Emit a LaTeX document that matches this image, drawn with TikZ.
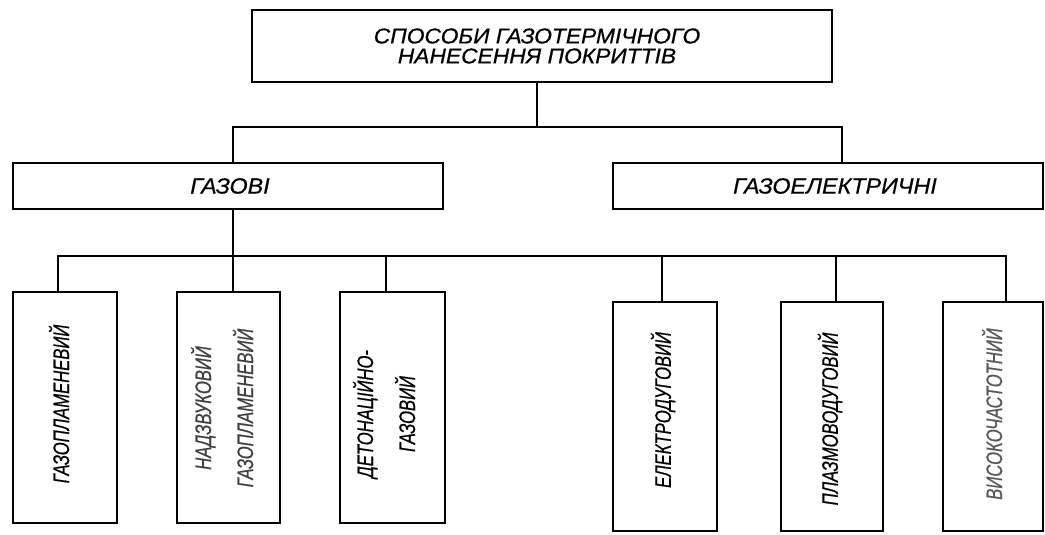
\documentclass[tikz,border=0pt]{standalone}
\usepackage{fontspec}
\setmainfont{Liberation Sans}
\newfontfamily\cadfont[FakeStretch=0.74, FakeBold=0.6]{Liberation Sans}
\newfontfamily\cadwide[FakeStretch=1.06, FakeBold=0.6]{Liberation Sans}
\begin{document}
\begin{tikzpicture}[x=1pt,y=-1pt,
  box/.style={draw, line width=1.7pt, inner sep=0pt},
  conn/.style={line width=1.5pt},
  toptxt/.style={font=\cadwide\itshape\fontsize{21.5}{20}\selectfont, align=center},
  midtxt/.style={font=\cadwide\itshape\fontsize{22}{22}\selectfont},
  vtxt/.style={rotate=90, align=center, font=\cadfont\itshape\fontsize{22.5}{42}\selectfont}
]
\useasboundingbox (0,0) rectangle (1045,535);
% top
\node[box, minimum width=580pt, minimum height=72pt] (top) at (542,46) {};
\node[toptxt] (toptext) at (537,46) {СПОСОБИ ГАЗОТЕРМІЧНОГО\\НАНЕСЕННЯ ПОКРИТТІВ};
% second level
\node[box, minimum width=430pt, minimum height=46pt] (gaz) at (228,186) {};
\node[midtxt] (gaztext) at (230,186) {ГАЗОВІ};
\node[box, minimum width=430pt, minimum height=46pt] (ge) at (828,186) {};
\node[midtxt] (getext) at (835,186) {ГАЗОЕЛЕКТРИЧНІ};
% third level
\node[box, minimum width=104pt, minimum height=231pt] (b1) at (65,407.5) {};
\node[box, minimum width=103pt, minimum height=231pt] (b2) at (228.5,407.5) {};
\node[box, minimum width=105pt, minimum height=231pt] (b3) at (392.5,407.5) {};
\node[box, minimum width=104pt, minimum height=229pt] (b4) at (665,416.5) {};
\node[box, minimum width=102pt, minimum height=229pt] (b5) at (832,416.5) {};
\node[box, minimum width=100pt, minimum height=229pt] (b6) at (993,416.5) {};
\node[vtxt] (b1t) at (59,404) {ГАЗОПЛАМЕНЕВИЙ};
\node[vtxt, text=black!75] (b2t) at (222,408) {НАДЗВУКОВИЙ\\ГАЗОПЛАМЕНЕВИЙ};
\node[vtxt] (b3t) at (384,414) {ДЕТОНАЦІЙНО-\\ГАЗОВИЙ};
\node[vtxt] (b4t) at (663,410) {ЕЛЕКТРОДУГОВИЙ};
\node[vtxt] (b5t) at (830,419) {ПЛАЗМОВОДУГОВИЙ};
\node[vtxt, text=black!65] (b6t) at (992,414) {ВИСОКОЧАСТОТНИЙ};
% bus coordinates
\coordinate (t1) at (537,127);
\coordinate (t2) at (233,127);
\coordinate (t3) at (842,127);
\coordinate (u1) at (58,256);
\coordinate (u2) at (233,256);
\coordinate (u3) at (386,256);
\coordinate (u4) at (662,256);
\coordinate (u5) at (836,256);
\coordinate (u6) at (1006,256);
% connectors
\draw[conn] (t1 |- top.south) -- (t1);
\draw[conn] (t2 |- gaz.north) -- (t2) -- (t3) -- (t3 |- ge.north);
\draw[conn] (u2 |- gaz.south) -- (u2);
\draw[conn] (u1 |- b1.north) -- (u1) -- (u6) -- (u6 |- b6.north);
\draw[conn] (u2) -- (u2 |- b2.north);
\draw[conn] (u3) -- (u3 |- b3.north);
\draw[conn] (u4) -- (u4 |- b4.north);
\draw[conn] (u5) -- (u5 |- b5.north);
\end{tikzpicture}
\end{document}
